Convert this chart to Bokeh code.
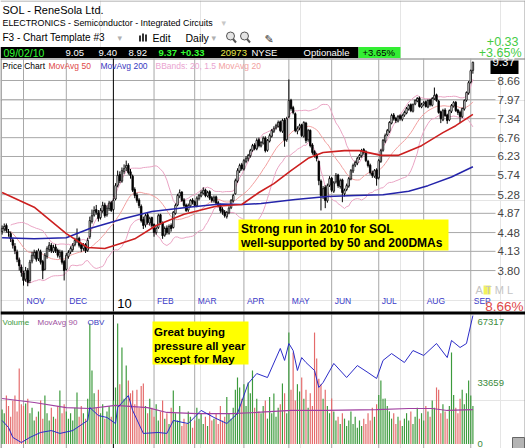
import math
import numpy as np
from bokeh.plotting import figure
from bokeh.models import Range1d, LogScale
from bokeh.core.properties import value
from bokeh.embed import file_html
from bokeh.resources import INLINE

FONT = "Liberation Sans"

# ------------------------------------------------------------------ data
month_labels = ["NOV", "DEC", "10", "FEB", "MAR", "APR", "MAY", "JUN", "JUL", "AUG", "SEP"]
month_starts = [10, 30, 52, 71, 90, 113, 134, 154, 176, 197, 219]
price_ticks = [3.80, 4.13, 4.48, 4.87, 5.28, 5.74, 6.23, 6.76, 7.34, 7.97, 8.66]
volume_ticks = [0, 33659, 67317]

opens = [
    4.50, 4.55, 4.62, 4.50, 4.46, 4.34, 4.22, 4.12, 3.98, 3.86,
    3.76, 3.66, 3.80, 3.64, 3.96, 4.05, 4.12, 4.00, 4.12, 3.95,
    3.82, 4.04, 4.16, 4.24, 4.13, 4.21, 4.15, 4.04, 4.12, 3.95,
    3.82, 4.04, 4.12, 4.16, 4.25, 4.33, 4.37, 4.25, 4.18, 4.25,
    4.15, 4.40, 4.70, 4.83, 4.95, 4.88, 4.78, 4.92, 5.05, 4.84,
    4.97, 5.10, 4.95, 5.18, 5.50, 5.76, 5.60, 5.84, 5.93, 6.00,
    5.83, 5.72, 5.40, 5.27, 5.16, 5.02, 4.74, 4.63, 4.84, 4.67,
    4.78, 4.64, 4.48, 4.58, 4.84, 4.67, 4.43, 4.57, 4.47, 4.62,
    4.58, 4.87, 5.05, 5.25, 5.34, 5.16, 5.05, 4.94, 5.03, 5.16,
    5.12, 5.03, 5.19, 5.25, 5.31, 5.39, 5.25, 5.35, 5.21, 5.14,
    5.23, 5.10, 5.05, 4.95, 4.90, 4.80, 4.88, 4.99, 5.14, 5.30,
    5.60, 5.85, 6.01, 5.90, 6.10, 6.17, 6.25, 6.40, 6.55, 6.44,
    6.70, 6.52, 6.60, 6.75, 6.40, 6.66, 6.80, 6.95, 7.05, 7.10,
    7.24, 6.95, 7.30, 6.70, 7.40, 7.95, 7.70, 7.50, 6.95, 7.05,
    7.15, 6.80, 7.20, 6.70, 6.98, 6.55, 6.36, 6.28, 6.10, 5.60,
    5.24, 5.45, 5.14, 5.50, 5.67, 5.36, 5.58, 5.75, 5.47, 5.63,
    5.30, 5.40, 5.48, 5.65, 5.85, 6.00, 6.05, 6.20, 6.25, 6.42,
    6.36, 6.10, 6.00, 5.80, 5.72, 5.88, 5.68, 6.10, 6.40, 6.66,
    6.84, 6.95, 7.20, 7.46, 7.35, 7.26, 7.43, 7.32, 7.45, 7.52,
    7.65, 7.80, 7.58, 7.82, 7.92, 8.03, 7.72, 7.82, 7.90, 7.72,
    7.96, 7.78, 8.00, 8.14, 7.92, 7.56, 7.30, 7.62, 7.46, 7.30,
    7.58, 7.75, 7.88, 7.62, 7.55, 7.40, 7.65, 7.95, 8.20, 8.60,
    9.05]

highs = [
    4.62, 4.66, 4.66, 4.55, 4.50, 4.38, 4.28, 4.16, 4.02, 3.90,
    3.80, 3.86, 3.84, 3.98, 4.12, 4.16, 4.15, 4.18, 4.16, 3.98,
    4.10, 4.22, 4.30, 4.28, 4.25, 4.26, 4.18, 4.16, 4.15, 3.98,
    4.10, 4.15, 4.22, 4.28, 4.38, 4.56, 4.40, 4.28, 4.28, 4.28,
    4.38, 4.80, 4.95, 5.02, 5.05, 4.94, 4.98, 5.12, 5.10, 5.04,
    5.14, 5.14, 5.20, 5.55, 5.86, 5.84, 5.94, 6.02, 6.12, 6.05,
    5.90, 5.76, 5.45, 5.32, 5.20, 5.06, 4.80, 4.86, 4.88, 4.80,
    4.80, 4.66, 4.60, 4.86, 4.86, 4.70, 4.60, 4.62, 4.64, 4.66,
    4.92, 5.08, 5.30, 5.40, 5.36, 5.20, 5.08, 5.08, 5.18, 5.20,
    5.15, 5.24, 5.30, 5.38, 5.45, 5.42, 5.37, 5.38, 5.25, 5.26,
    5.26, 5.14, 5.08, 5.00, 4.94, 4.92, 5.02, 5.18, 5.30, 5.66,
    5.92, 6.04, 6.06, 6.16, 6.24, 6.30, 6.44, 6.58, 6.60, 6.74,
    6.76, 6.66, 6.80, 6.80, 6.72, 6.88, 7.02, 7.10, 7.18, 7.28,
    7.28, 7.34, 7.36, 7.40, 8.70, 8.00, 7.76, 7.54, 7.10, 7.18,
    7.18, 7.26, 7.24, 7.02, 7.00, 6.60, 6.40, 6.32, 6.12, 5.64,
    5.48, 5.50, 5.54, 5.72, 5.70, 5.60, 5.80, 5.78, 5.66, 5.66,
    5.42, 5.54, 5.70, 5.90, 6.04, 6.12, 6.22, 6.30, 6.44, 6.46,
    6.40, 6.14, 6.04, 5.86, 5.90, 5.92, 6.16, 6.44, 6.72, 6.88,
    7.02, 7.26, 7.50, 7.52, 7.40, 7.46, 7.48, 7.50, 7.60, 7.72,
    7.82, 7.84, 7.84, 7.98, 8.06, 8.08, 7.86, 7.92, 7.94, 7.98,
    8.00, 8.06, 8.40, 8.18, 7.96, 7.60, 7.66, 7.68, 7.50, 7.64,
    7.82, 7.92, 7.92, 7.66, 7.60, 7.70, 7.98, 8.26, 8.64, 9.08,
    9.40]

lows = [
    4.44, 4.50, 4.48, 4.40, 4.30, 4.18, 4.08, 3.94, 3.80, 3.70,
    3.56, 3.62, 3.55, 3.60, 3.92, 4.00, 3.95, 3.96, 3.90, 3.66,
    3.80, 4.00, 4.12, 4.10, 4.10, 4.10, 4.02, 4.00, 3.90, 3.64,
    3.80, 4.00, 4.08, 4.12, 4.22, 4.28, 4.20, 4.12, 4.14, 4.10,
    4.12, 4.36, 4.66, 4.80, 4.84, 4.70, 4.74, 4.88, 4.78, 4.80,
    4.92, 4.90, 4.92, 5.15, 5.45, 5.55, 5.56, 5.78, 5.85, 5.76,
    5.66, 5.34, 5.20, 5.10, 4.98, 4.68, 4.55, 4.58, 4.64, 4.62,
    4.58, 4.40, 4.44, 4.55, 4.64, 4.36, 4.40, 4.44, 4.44, 4.50,
    4.56, 4.84, 5.02, 5.20, 5.12, 5.00, 4.90, 4.90, 5.00, 5.06,
    5.00, 5.00, 5.15, 5.22, 5.28, 5.22, 5.22, 5.16, 5.10, 5.10,
    5.05, 5.00, 4.88, 4.84, 4.78, 4.76, 4.85, 4.96, 5.10, 5.28,
    5.56, 5.80, 5.86, 5.86, 6.05, 6.10, 6.20, 6.36, 6.40, 6.40,
    6.48, 6.48, 6.56, 6.34, 6.36, 6.62, 6.76, 6.90, 7.00, 7.06,
    6.92, 6.90, 6.50, 6.64, 7.36, 7.60, 7.48, 6.92, 6.86, 6.98,
    6.78, 6.76, 6.60, 6.64, 6.48, 6.28, 6.20, 6.10, 5.50, 4.93,
    5.18, 4.98, 5.10, 5.46, 5.34, 5.32, 5.54, 5.44, 5.42, 5.11,
    5.24, 5.36, 5.44, 5.62, 5.80, 5.95, 6.00, 6.14, 6.20, 6.28,
    6.08, 5.94, 5.76, 5.68, 5.68, 5.49, 5.64, 6.06, 6.36, 6.60,
    6.80, 6.90, 7.16, 7.28, 7.20, 7.22, 7.28, 7.26, 7.40, 7.48,
    7.60, 7.55, 7.54, 7.78, 7.88, 7.70, 7.68, 7.76, 7.70, 7.68,
    7.74, 7.74, 7.96, 7.90, 7.50, 7.20, 7.26, 7.40, 7.18, 7.26,
    7.52, 7.70, 7.56, 7.46, 7.20, 7.36, 7.60, 7.90, 8.14, 8.55,
    8.92]

closes = [
    4.56, 4.60, 4.52, 4.48, 4.36, 4.24, 4.14, 3.99, 3.88, 3.77,
    3.64, 3.80, 3.61, 3.94, 4.06, 4.11, 3.99, 4.14, 3.94, 3.80,
    4.06, 4.18, 4.24, 4.14, 4.20, 4.14, 4.06, 4.11, 3.94, 3.80,
    4.06, 4.11, 4.18, 4.24, 4.33, 4.36, 4.24, 4.18, 4.24, 4.14,
    4.33, 4.72, 4.82, 4.93, 4.89, 4.76, 4.93, 5.04, 4.82, 4.98,
    5.09, 4.93, 5.15, 5.49, 5.74, 5.61, 5.86, 5.91, 5.99, 5.81,
    5.74, 5.38, 5.26, 5.15, 5.04, 4.72, 4.62, 4.82, 4.68, 4.76,
    4.62, 4.48, 4.56, 4.82, 4.68, 4.42, 4.56, 4.48, 4.60, 4.56,
    4.89, 5.04, 5.26, 5.33, 5.15, 5.04, 4.93, 5.04, 5.15, 5.11,
    5.04, 5.20, 5.26, 5.33, 5.38, 5.26, 5.33, 5.20, 5.15, 5.22,
    5.09, 5.04, 4.93, 4.89, 4.82, 4.89, 4.98, 5.15, 5.26, 5.61,
    5.86, 5.99, 5.91, 6.12, 6.18, 6.26, 6.39, 6.53, 6.45, 6.68,
    6.53, 6.62, 6.74, 6.39, 6.68, 6.82, 6.97, 7.03, 7.12, 7.22,
    6.97, 7.28, 6.68, 7.34, 7.94, 7.67, 7.54, 6.97, 7.03, 7.12,
    6.82, 7.22, 6.68, 6.97, 6.53, 6.34, 6.26, 6.18, 5.61, 5.26,
    5.42, 5.15, 5.49, 5.66, 5.38, 5.56, 5.74, 5.49, 5.61, 5.33,
    5.38, 5.49, 5.66, 5.86, 5.99, 6.07, 6.18, 6.26, 6.39, 6.34,
    6.12, 5.99, 5.81, 5.74, 5.86, 5.66, 6.12, 6.39, 6.68, 6.82,
    6.97, 7.22, 7.44, 7.34, 7.28, 7.41, 7.34, 7.44, 7.54, 7.67,
    7.77, 7.60, 7.80, 7.94, 8.01, 7.74, 7.80, 7.87, 7.74, 7.94,
    7.80, 8.01, 8.12, 7.94, 7.54, 7.34, 7.60, 7.44, 7.28, 7.60,
    7.77, 7.87, 7.60, 7.54, 7.41, 7.67, 7.94, 8.22, 8.58, 9.04,
    9.37]

volumes = [
    19000, 17000, 26800, 21000, 15000, 24000, 26800, 18000, 41700, 22000,
    21000, 22400, 25000, 17000, 20000, 13000, 15000, 18000, 24000, 14000,
    26800, 17000, 13000, 20000, 15000, 14000, 21000, 29500, 17000, 22000,
    18000, 14000, 17000, 13000, 20000, 28400, 15000, 21000, 17000, 14000,
    25000, 66500, 40600, 28000, 20000, 30000, 17000, 22000, 14000, 18000,
    21000, 15000, 24000, 31200, 66500, 33000, 53300, 25000, 43300, 35000,
    28000, 29500, 22000, 30000, 20000, 32000, 33400, 21000, 17000, 25000,
    20000, 15000, 22000, 13000, 18000, 24000, 14000, 17000, 11000, 20000,
    29500, 17000, 13000, 21000, 10000, 14000, 11000, 18000, 15000, 9000,
    13000, 20000, 14000, 17000, 11000, 15000, 10000, 18000, 13000, 14000,
    17000, 11000, 21000, 13000, 15000, 26000, 17000, 14000, 20000, 30000,
    36700, 31200, 25000, 33000, 21000, 34000, 28000, 40600, 20000, 25000,
    18000, 17000, 21000, 24000, 14000, 26000, 17000, 27900, 15000, 20000,
    22000, 33400, 28000, 17000, 61500, 30000, 50500, 24000, 33000, 29000,
    36700, 25000, 30000, 20000, 28000, 21000, 61500, 47200, 36000, 33000,
    25000, 30000, 21000, 17000, 25100, 18000, 13000, 15000, 11000, 17000,
    14000, 10000, 13000, 18000, 11000, 15000, 9000, 13000, 10000, 14000,
    11000, 17000, 13000, 20000, 15000, 22000, 27000, 35000, 25000, 25100,
    21000, 18000, 14000, 17000, 11000, 15000, 13000, 10000, 14000, 17000,
    13000, 18000, 11000, 15000, 20000, 14000, 17000, 13000, 21000, 18000,
    15000, 24000, 20000, 31200, 30000, 17000, 22000, 18000, 14000, 21000,
    50500, 27000, 20000, 17000, 25000, 30000, 22000, 28000, 35000, 26800,
    20973]

ma50_idx = [0, 15, 30, 40, 48, 55, 62, 72, 85, 100, 112, 120, 127, 135, 143, 150, 160, 167, 177, 185, 196, 206, 212, 220]
ma50_val = [5.33, 5.00, 4.46, 4.20, 4.18, 4.27, 4.36, 4.62, 4.85, 5.02, 5.06, 5.33, 5.54, 5.86, 6.18, 6.34, 6.39, 6.39, 6.26, 6.26, 6.53, 6.91, 7.12, 7.48]

ma200_idx = [0, 15, 30, 41, 57, 70, 87, 102, 112, 121, 137, 152, 165, 178, 190, 199, 210, 220]
ma200_val = [4.38, 4.36, 4.38, 4.56, 4.76, 4.91, 5.00, 5.07, 5.06, 5.08, 5.17, 5.24, 5.26, 5.28, 5.36, 5.49, 5.70, 5.96]

vol_ma90_idx = [0, 15, 30, 41, 53, 68, 77, 91, 107, 119, 135, 151, 175, 190, 201, 208, 220]
vol_ma90_val = [25100, 22900, 20100, 19600, 21300, 20100, 17400, 16800, 16800, 17400, 18500, 18500, 19000, 19600, 19600, 18500, 19000]

obv_idx = [0, 3, 5, 9, 13, 18, 23, 27, 33, 40, 41, 45, 49, 53, 54, 59, 61, 66, 73, 77, 80, 87, 93, 99, 105, 110,
           115, 119, 124, 130, 132, 134, 136, 138, 140, 142, 146, 148, 150, 155, 161, 166, 171, 175, 178, 182,
           188, 192, 197, 203, 208, 210, 214, 217, 220]
obv_val = [12100, 8400, 3200, 500, 3200, 5800, 6800, 5300, 6800, 12100, 18900, 14700, 13700, 10500, 18900, 25200,
           17400, 5300, 5800, 5300, 12100, 10500, 17400, 13700, 10500, 15800,
           31600, 36800, 34700, 50000, 43700, 52600, 48900, 38400, 45200, 42600, 38400, 29500, 32100, 42100,
           34700, 41000, 37300, 34200, 43700, 47300, 42600, 48900, 46300, 52600, 45200, 54200, 50500, 52600, 67300]

# ------------------------------------------------------------------ layout geometry (pixels)
W, H = 525, 448
PX_PER_BAR = 2.14


def ix(px):
    """horizontal pixel -> bar index"""
    return 10 + (px - 23) / PX_PER_BAR


P_TOP_PX, P_BOT_PX = 58, 311
P_LO, P_HI = 3.182, 9.527


def py(ypx):
    t = (P_BOT_PX - ypx) / (P_BOT_PX - P_TOP_PX)
    return math.exp(math.log(P_LO) + t * (math.log(P_HI) - math.log(P_LO)))


V_TOP_PX, V_BOT_PX = 314, 448
V_LO, V_HI = -2483, 71458
O_LO, O_HI = -2630, 67854


def vy(ypx):
    return V_LO + (V_BOT_PX - ypx) / (V_BOT_PX - V_TOP_PX) * (V_HI - V_LO)


def oy(ypx):
    return O_LO + (V_BOT_PX - ypx) / (V_BOT_PX - V_TOP_PX) * (O_HI - O_LO)


# one canvas: default ranges are pixels (y downward); extra ranges carry the data
p = figure(width=W, height=H, x_range=Range1d(0, W), y_range=Range1d(H, 0),
           toolbar_location=None, tools="", output_backend="svg", title=None,
           x_axis_location=None, y_axis_location=None, min_border=0)
p.outline_line_color = None
p.extra_x_ranges = {"bar": Range1d(ix(0), ix(W))}
p.extra_y_ranges = {"price": Range1d(py(H), py(0)),
                    "vol": Range1d(vy(H), vy(0)),
                    "obv": Range1d(oy(H), oy(0))}
p.extra_y_scales = {"price": LogScale()}


def txt(x, y, s, color="black", size="10px", bold=False, align="left", font=FONT, **kw):
    p.text(x=[x], y=[y], text=[s], text_color=color, text_font=value(font),
           text_font_size=size, text_font_style="bold" if bold else "normal",
           text_align=align, text_baseline="middle", **kw)


# ------------------------------------------------------------------ header
p.line([0, W], [0.5, 0.5], line_color="#9a9a9a", line_width=1)
p.line([W - 0.5, W - 0.5], [0, H], line_color="#9a9a9a", line_width=1)
p.line([0.5, 0.5], [P_TOP_PX, H], line_color="#555555", line_width=1)

txt(2, 9, "SOL - ReneSola Ltd.", size="11px")
txt(2, 22.5, "ELECTRONICS - Semiconductor - Integrated Circuits", size="8.9px")
txt(221, 22.5, "▾", color="#c8c8c8", size="9px", font="DejaVu Sans")
txt(2, 37, "F3 - Chart Template #3", size="10px")
txt(117, 37, "▾", color="#b0b0b0", size="9px", font="DejaVu Sans")
p.quad(left=[138.5, 141.5, 144.5], right=[140.5, 143.5, 146.5], top=[35, 33, 34], bottom=[41, 41, 41],
       fill_color="#333333", line_color=None)
txt(152, 37, "Edit", size="10.5px")
txt(185, 37, "Daily", size="10.5px")
txt(211, 37, "▾", color="#b0b0b0", size="9px", font="DejaVu Sans")
p.scatter([230, 244], [35.5, 35.5], size=8, marker="circle", fill_color="#e4e4e4", line_color="#555555")
p.segment(x0=[232.5, 246.5], y0=[38.5, 38.5], x1=[235.5, 249.5], y1=[42, 42], line_color="#555555", line_width=2)
txt(264, 39, "✎", color="#333333", size="11px", font="DejaVu Sans")

p.quad(left=[0], right=[358], top=[46.5], bottom=[57.5], fill_color="black", line_color=None)
p.quad(left=[358], right=[400], top=[46.5], bottom=[57.5], fill_color="#33ee33", line_color=None)
bar_items = [(3, "09/02/10", "#33ff33", False, "10.5px"), (65, "9.05", "white", False, "9.5px"),
             (98, "9.40", "white", False, "9.5px"), (128, "8.92", "white", False, "9.5px"),
             (158, "9.37", "#33ff33", True, "9.5px"), (180, "+0.33", "#33ff33", True, "9.5px"),
             (220, "20973", "#e8e84a", False, "9.5px"), (251, "NYSE", "white", False, "9.5px"),
             (303, "Optionable", "white", False, "9.5px"), (362, "+3.65%", "black", False, "9.5px")]
for bx, s, col, b, fs in bar_items:
    txt(bx, 52, s, color=col, size=fs, bold=b)
txt(518, 41, "+0.33", color="#44cc44", size="12.5px", align="right")
txt(521, 52.5, "+3.65%", color="#44cc44", size="12.5px", align="right")
p.line([0, W], [58.5, 58.5], line_color="#777777", line_width=1)

# ------------------------------------------------------------------ price panel
idx = np.arange(len(closes))
o = np.array(opens)
c = np.array(closes)
up = c >= o

# grid
p.segment(x0=[0] * len(price_ticks), x1=[495] * len(price_ticks), y0=price_ticks, y1=price_ticks,
          line_color="#a8a8a8", line_width=1, y_range_name="price")
grid_cols = ["black" if m == "10" else "#a8a8a8" for m in month_labels]
p.segment(x0=month_starts, x1=month_starts, y0=[P_TOP_PX] * len(month_starts), y1=[P_BOT_PX] * len(month_starts),
          line_color=grid_cols, line_width=1, x_range_name="bar")
p.segment(x0=month_starts, x1=month_starts, y0=[V_TOP_PX] * len(month_starts), y1=[V_BOT_PX] * len(month_starts),
          line_color=grid_cols, line_width=1, x_range_name="bar")

# Bollinger bands (20, 1.5) and 20-day average computed from the closes
ma20 = np.full(len(c), np.nan)
sd20 = np.full(len(c), np.nan)
for i in range(len(c)):
    lo_i = max(0, i - 19)
    if i - lo_i + 1 >= 5:
        w = c[lo_i:i + 1]
        ma20[i] = w.mean()
        sd20[i] = w.std()
pr = dict(x_range_name="bar", y_range_name="price")
p.line(idx, ma20 + 1.5 * sd20, line_color="#eaa4c4", line_width=1, **pr)
p.line(idx, ma20 - 1.5 * sd20, line_color="#eaa4c4", line_width=1, **pr)
p.line(idx, ma20, line_color="#f2a0a0", line_width=1, **pr)

p.segment(x0=idx, y0=lows, x1=idx, y1=highs, line_color="black", line_width=1, **pr)
p.vbar(x=idx[up], width=0.7, top=c[up], bottom=o[up], fill_color="white", line_color="black", line_width=0.8, **pr)
p.vbar(x=idx[~up], width=0.7, top=o[~up], bottom=c[~up], fill_color="black", line_color="black", line_width=0.8, **pr)

p.line(ma200_idx, ma200_val, line_color="#2424aa", line_width=1.5, **pr)
p.line(ma50_idx, ma50_val, line_color="#cc2020", line_width=1.6, **pr)

# price scale labels
p.text(x=[497] * len(price_ticks), y=price_ticks, text=[f"{t:.2f}" for t in price_ticks],
       text_color="#444444", text_font=value(FONT), text_font_size="11.5px",
       text_baseline="middle", text_align="left", y_range_name="price")
p.quad(left=[490], right=[518], top=[60], bottom=[73.5], fill_color="black", line_color=None)
p.text(x=[492], y=[closes[-1]], text=[f"{closes[-1]:.2f}"], text_color="white", text_font=value(FONT),
       text_font_size="11.5px", text_baseline="middle", y_range_name="price")

legend_items = [(2, "Price Chart", "black"), (48, "MovAvg 50", "#e04848"), (100, "MovAvg 200", "#3838c0"),
                (155, "BBands: 20, 1.5", "#eaa4d0"), (218, "MovAvg 20", "#f2a0a0")]
for lx, s, col in legend_items:
    txt(lx, 65, s, color=col, size="8.5px")

for m, lab in zip(month_starts, month_labels):
    if lab == "10":
        txt(m + 1.8, 303, lab, color="black", size="13px", x_range_name="bar")
    else:
        txt(m + 1.4, 300, lab, color="#3a3ac8", size="8.5px", x_range_name="bar")

p.quad(left=[238], right=[448], top=[219], bottom=[250], fill_color="#ffff00", line_color=None)
txt(240.5, 228.5, "Strong run in 2010 for SOL", size="12px", bold=True)
txt(240.5, 242.5, "well-supported by 50 and 200DMAs", size="12px", bold=True)

p.quad(left=[483], right=[490], top=[285], bottom=[294], fill_color="#f2f25a", line_color=None)
txt(475, 289.5, "A   T M L", color="#c4c4c4", size="11px")
txt(523, 306, "8.66%", color="#e04848", size="13.5px", align="right")

# separator
p.quad(left=[0], right=[W], top=[P_BOT_PX], bottom=[V_TOP_PX], fill_color="black", line_color=None)

# ------------------------------------------------------------------ volume panel
vr = dict(x_range_name="bar", y_range_name="vol")
prev = np.concatenate([[o[0]], c[:-1]])
vcolors = ["#3c9a3c" if c[i] >= prev[i] else "#e46a6a" for i in range(len(c))]
p.vbar(x=idx, width=0.55, top=volumes, bottom=0, fill_color=vcolors, line_color=None, **vr)
p.line(vol_ma90_idx, vol_ma90_val, line_color="#a040a0", line_width=1.2, **vr)
p.line(obv_idx, obv_val, line_color="#2c2cc8", line_width=1, x_range_name="bar", y_range_name="obv")

p.text(x=[477] * len(volume_ticks), y=volume_ticks, text=[str(t) for t in volume_ticks],
       text_color="#3a8a3a", text_font=value(FONT), text_font_size="9.5px",
       text_baseline="middle", text_align="left", y_range_name="vol")

for lx, s, col in [(2, "Volume", "#3c9a3c"), (37, "MovAvg 90", "#a050a0"), (87, "OBV", "#3838c0")]:
    txt(lx, 321.5, s, color=col, size="8px")

p.quad(left=[152], right=[248], top=[321], bottom=[364], fill_color="#ffff00", line_color=None)
for ty, s in [(331, "Great buying"), (345, "pressure all year"), (358.5, "except for May")]:
    txt(153.5, ty, s, size="11.5px", bold=True)

p.quad(left=[512], right=[524], top=[437], bottom=[448], fill_color="#b4b4b4", line_color="#666666")

open("out.html", "w").write(file_html(p, INLINE))
